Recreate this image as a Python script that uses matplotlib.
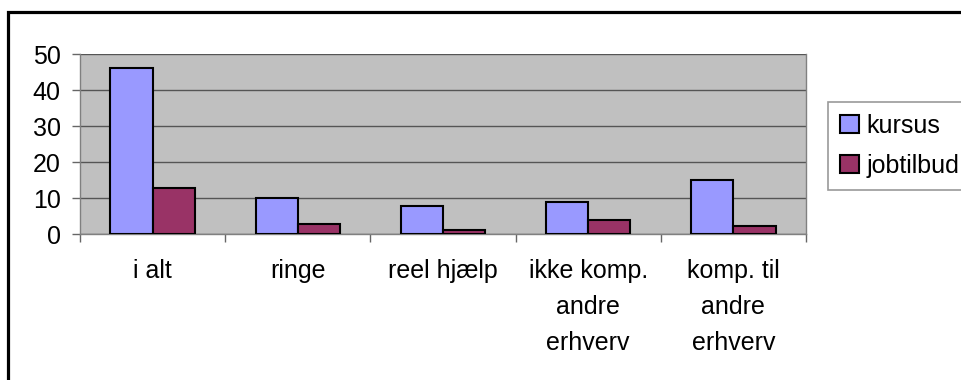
import matplotlib.pyplot as plt
import matplotlib.patches as mpatches
import numpy as np

plt.rcParams["font.family"] = ["Liberation Sans", "DejaVu Sans"]

categories = ["i alt", "ringe", "reel hjælp", "ikke komp.\nandre\nerhverv", "komp. til\nandre\nerhverv"]
kursus = [46, 10, 7.9, 9, 15]
jobtilbud = [12.8, 2.9, 1.2, 3.9, 2.3]
series_names = ["kursus", "jobtilbud"]
y_ticks = [0, 10, 20, 30, 40, 50]

W, H = 962, 380
fs = 18
fig = plt.figure(figsize=(W / 100, H / 100), dpi=100)
fig.patch.set_facecolor("white")

# outer chart border (top and left edge visible)
frame = mpatches.Rectangle((8 / W, -0.2), 2.0, 0.2 + (H - 12) / H,
                           transform=fig.transFigure, fill=False,
                           edgecolor="black", linewidth=2.3, zorder=0)
fig.patches.append(frame)

ax = fig.add_axes([80 / W, (H - 234) / H, (806 - 80) / W, (234 - 54) / H])
ax.set_facecolor("#C0C0C0")

x = np.arange(len(categories))
bw = 0.29
ax.bar(x - bw / 2, kursus, bw, color="#9999FF", edgecolor="black",
       linewidth=1.5, label=series_names[0], zorder=3)
ax.bar(x + bw / 2, jobtilbud, bw, color="#993366", edgecolor="black",
       linewidth=1.5, label=series_names[1], zorder=3)

ax.set_xlim(-0.5, len(categories) - 0.5)
ax.set_ylim(0, 50)
ax.set_yticks(y_ticks)
ax.yaxis.grid(True, color="#555555", linewidth=1.0, zorder=1)

ax.set_xticks(x)
ax.set_xticklabels(categories, fontsize=fs, linespacing=1.64, va="top")
ax.set_xticks(np.arange(len(categories) + 1) - 0.5, minor=True)
ax.tick_params(axis="x", which="major", length=0, pad=18)
ax.tick_params(axis="x", which="minor", length=6, color="#666666", width=1)
ax.tick_params(axis="y", labelsize=fs, length=6, color="#666666", width=1, pad=8)

for s in ax.spines.values():
    s.set_color("#808080")
    s.set_linewidth(1.0)
ax.spines["top"].set_visible(False)

leg = fig.legend(loc="upper left", bbox_to_anchor=(828 / W, (H - 102) / H),
                 frameon=True, fancybox=False, fontsize=fs,
                 handlelength=0.75, handleheight=0.75, handletextpad=0.3,
                 labelspacing=0.62, borderpad=0.48, borderaxespad=0)
leg.get_frame().set_edgecolor("#808080")
leg.get_frame().set_linewidth(1.2)

fig.savefig("out.png", dpi=100)
